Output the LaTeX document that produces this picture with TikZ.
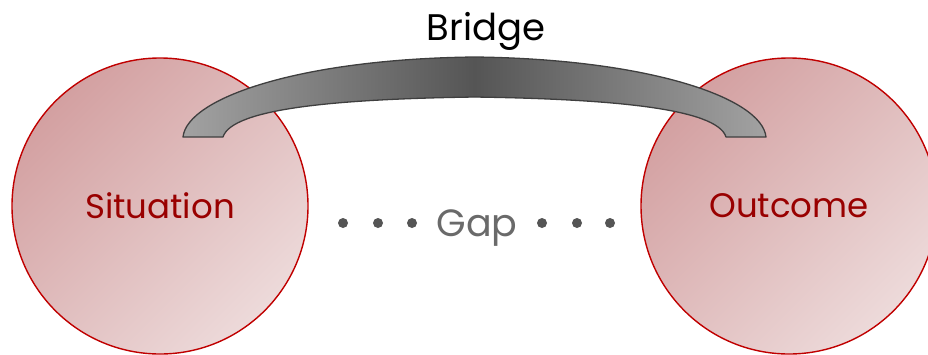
\documentclass[tikz,border=0pt]{standalone}
\usepackage{fontspec}
\setmainfont{Poppins}
\definecolor{ringred}{HTML}{C00000}
\definecolor{discdark}{HTML}{D3A0A1}
\definecolor{disclight}{HTML}{EDDADA}
\definecolor{labelred}{HTML}{990000}
\definecolor{brEnd}{HTML}{A2A2A2}
\definecolor{brMid}{HTML}{555555}
\definecolor{brLine}{HTML}{3F3F3F}
\definecolor{gapgray}{HTML}{6A6A6A}
\definecolor{dotgray}{HTML}{555555}
\pgfdeclarehorizontalshading{bridgeshade}{100bp}{color(0bp)=(brEnd); color(25bp)=(brEnd); color(50bp)=(brMid); color(75bp)=(brEnd); color(100bp)=(brEnd)}
\tikzset{
  disc/.style={circle, draw=ringred, line width=1.4pt, minimum size=296pt,
    inner sep=0pt, top color=discdark, bottom color=disclight, shading angle=45,
    text=labelred, font=\fontsize{34}{40}\selectfont},
  gapdot/.style={circle, fill=dotgray, minimum size=10pt, inner sep=0pt},
  bridgebody/.style={shading=bridgeshade, draw=brLine, line width=1.3pt, line join=round},
}
\begin{document}
\begin{tikzpicture}[x=1pt, y=-1pt]
  \useasboundingbox (0,0) rectangle (928,354);
  % the two states
  \node[disc] (sit) at (160,206) {Situation};
  \node[disc] (out) at (789,206) {Outcome};
  % the arching bridge between them
  \path[bridgebody]
    (183,137) .. controls (187,98) and (300,59) .. (474.5,57)
              .. controls (649,59) and (762,98) .. (766,137)
    -- (726,137) .. controls (717,108) and (609,99) .. (474.5,97)
              .. controls (340,99) and (232,108) .. (223,137) -- cycle;
  \node[font=\fontsize{37}{42}\selectfont, text=black, anchor=base] (bridge) at (486,40) {Bridge};
  % the gap with its dotted lead-ins
  \node[font=\fontsize{38}{44}\selectfont, text=gapgray, anchor=base] (gap) at (477,236) {Gap};
  \node[gapdot] (l1) at (343,223) {};
  \node[gapdot] (l2) at (378,223) {};
  \node[gapdot] (l3) at (412,223) {};
  \node[gapdot] (r1) at (542,223) {};
  \node[gapdot] (r2) at (577,223) {};
  \node[gapdot] (r3) at (610,223) {};
\end{tikzpicture}
\end{document}
